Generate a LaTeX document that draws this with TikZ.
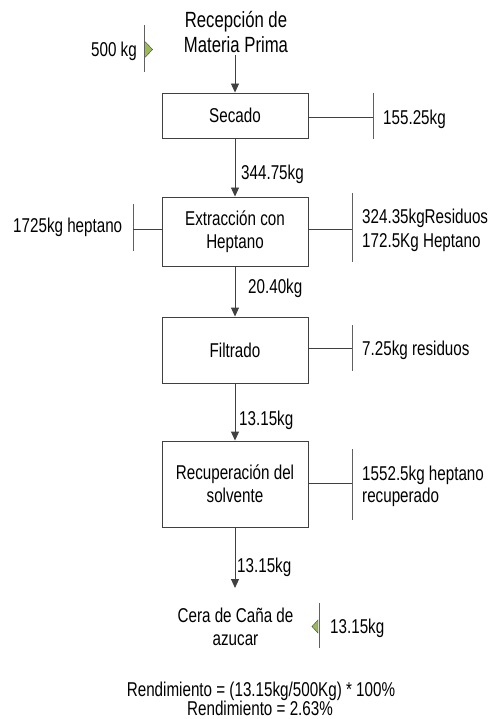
\documentclass[tikz,border=0pt]{standalone}
\usepackage{fontspec}
\setmainfont[FakeStretch=0.76]{Liberation Sans}
\usetikzlibrary{arrows.meta}
\definecolor{linec}{HTML}{404040}
\definecolor{barc}{HTML}{606060}
\definecolor{trif}{HTML}{9BBB59}
\begin{document}
\begin{tikzpicture}[x=1pt,y=-1pt,
  proc/.style={draw=linec,line width=0.9pt,rectangle,minimum width=146pt,inner sep=0pt,align=center,font=\fontsize{20}{23}\selectfont},
  lbl/.style={inner sep=0pt,font=\fontsize{20}{23}\selectfont},
  big/.style={inner sep=0pt,font=\fontsize{22}{25}\selectfont},
  flow/.style={draw=linec,line width=0.9pt,-{Triangle[length=9pt,width=8pt]}},
  side/.style={draw=linec,line width=0.9pt},
  bar/.style={draw=barc,line width=1pt},
  tri/.style={draw=linec,fill=trif,line width=0.4pt}]
\useasboundingbox (0,0) rectangle (498,719);
% top
\node[big,anchor=base] (rec1) at (236,28) {Recepción de};
\node[big,anchor=base,inner ysep=2pt] (rec2) at (236,53) {Materia Prima};
\node[proc,minimum height=45pt] (sec) at (235,115.5) {Secado};
\node[proc,minimum height=69pt] (ext) at (235,231.5) {Extracción con\\Heptano};
\node[proc,minimum height=66pt] (fil) at (235,350) {Filtrado};
\node[proc,minimum height=86pt] (recu) at (235,484) {Recuperación del\\solvente};
\node[lbl,anchor=base] (cera1) at (235.5,622) {Cera de Caña de};
\node[lbl,anchor=base] (cera2) at (235.5,645) {azucar};
% flows
\draw[flow] (rec2.south -| sec.north) -- (sec.north);
\draw[flow] (sec.south) -- (ext.north);
\draw[flow] (ext.south) -- (fil.north);
\draw[flow] (fil.south) -- (recu.north);
\coordinate (cer) at (235,588);
\draw[flow] (recu.south) -- (cer);
\node[lbl,anchor=base west] (l1) at (241,180) {344.75kg};
\node[lbl,anchor=base west] (l2) at (248,293) {20.40kg};
\node[lbl,anchor=base west] (l3) at (239,425) {13.15kg};
\node[lbl,anchor=base west] (l4) at (237,572) {13.15kg};
% input 500 kg
\coordinate (b1a) at (144,25); \coordinate (b1b) at (144,72);
\draw[bar] (b1a) -- (b1b);
\draw[tri] (145.5,42) -- (152.5,49.5) -- (145.5,57) -- cycle;
\node[lbl,anchor=base east] (in1) at (137,57) {500 kg};
% secado output
\coordinate (b2a) at (373,93); \coordinate (b2b) at (373,139);
\draw[bar] (b2a) -- (b2b);
\draw[side] (sec.east |- 0,117) coordinate (s1) -- (s1 -| b2a);
\node[lbl,anchor=base west] (o1) at (383,125) {155.25kg};
% extraction input
\coordinate (b3a) at (133,204); \coordinate (b3b) at (133,251);
\draw[bar] (b3a) -- (b3b);
\draw[side] (ext.west |- 0,229) coordinate (e1) -- (e1 -| b3a);
\node[lbl,anchor=base west] (in2) at (13,233) {1725kg heptano};
% extraction output
\coordinate (b4a) at (352,193); \coordinate (b4b) at (352,262);
\draw[bar] (b4a) -- (b4b);
\draw[side] (ext.east |- 0,229) coordinate (e2) -- (e2 -| b4a);
\node[lbl,anchor=base west] (o2a) at (362,223) {324.35kgResiduos};
\node[lbl,anchor=base west] (o2b) at (362,247) {172.5Kg Heptano};
% filtrado output
\coordinate (b5a) at (352,325); \coordinate (b5b) at (352,371);
\draw[bar] (b5a) -- (b5b);
\draw[side] (fil.east |- 0,348) coordinate (f1) -- (f1 -| b5a);
\node[lbl,anchor=base west] (o3) at (362,355) {7.25kg residuos};
% recuperacion output
\coordinate (b6a) at (352,449); \coordinate (b6b) at (352,520);
\draw[bar] (b6a) -- (b6b);
\draw[side] (recu.east |- 0,483) coordinate (g1) -- (g1 -| b6a);
\node[lbl,anchor=base west] (o4a) at (362,480) {1552.5kg heptano};
\node[lbl,anchor=base west] (o4b) at (362,502) {recuperado};
% product
\coordinate (b7a) at (319,603); \coordinate (b7b) at (319,648);
\draw[bar] (b7a) -- (b7b);
\draw[tri] (318,620) -- (312,626.5) -- (318,633) -- cycle;
\node[lbl,anchor=base west] (o5) at (330,633) {13.15kg};
% rendimiento
\node[lbl,anchor=base] (rend1) at (261,696) {Rendimiento = (13.15kg/500Kg) * 100\%};
\node[lbl,anchor=base] (rend2) at (260,715) {Rendimiento = 2.63\%};
\end{tikzpicture}
\end{document}
